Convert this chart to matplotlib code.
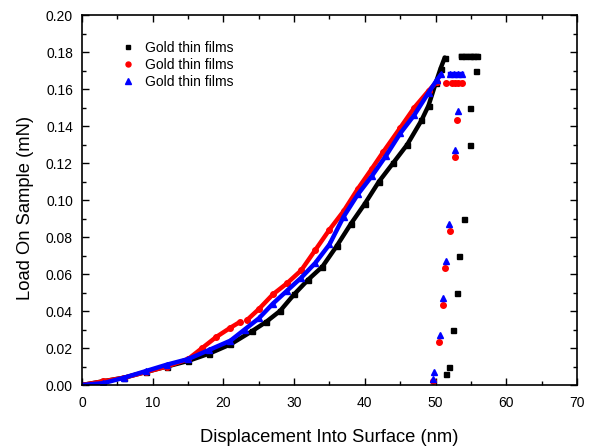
import matplotlib.pyplot as plt
from matplotlib.ticker import MultipleLocator

plt.rcParams['font.family'] = ['Liberation Sans', 'DejaVu Sans']

label = "Gold thin films"
nan = float('nan')

# loading segments (dense points)
black_x = [0, 3, 6, 9, 12, 15, 18, 21, 24, 26, 28, 30, 32, 34, 36, 38, 40, 42, 44, 46, 48, 49, 50, 50.7, 51.3]
black_y = [0.000, 0.002, 0.004, 0.007, 0.010, 0.013, 0.017, 0.022, 0.029, 0.034, 0.040, 0.049, 0.057, 0.064,
           0.075, 0.087, 0.098, 0.110, 0.120, 0.130, 0.143, 0.151, 0.163, 0.171, 0.177]
# red has a small break near 22-23 nm
red_x = [0, 3, 6, 9, 12, 15, 17, 19, 21, 22.3, nan, 23.3, 25, 27, 29, 31, 33, 35, 37, 39, 41, 42.6, 45, 47, 49, 50.2]
red_y = [0.000, 0.002, 0.004, 0.007, 0.010, 0.014, 0.020, 0.026, 0.031, 0.034, nan, 0.035, 0.041, 0.049, 0.055,
         0.062, 0.073, 0.084, 0.094, 0.106, 0.117, 0.126, 0.139, 0.150, 0.159, 0.164]
blue_x = [0, 3, 6, 9, 12, 15, 18, 21, 23, 25, 27, 29, 31, 33, 35, 37, 39, 41, 43, 45, 47, 49, 50.2, 50.8]
blue_y = [0.000, 0.001, 0.004, 0.0075, 0.011, 0.014, 0.019, 0.024, 0.030, 0.036, 0.044, 0.051, 0.058, 0.066,
          0.076, 0.091, 0.103, 0.113, 0.124, 0.136, 0.146, 0.158, 0.165, 0.168]

# holding at peak load
black_hold_x = [53.6, 54.2, 54.8, 55.3, 55.8]
black_hold_y = [0.178, 0.178, 0.178, 0.178, 0.178]
red_hold_x = [52.3, 52.8, 53.2, 53.7]
red_hold_y = [0.163, 0.163, 0.163, 0.163]
blue_hold_x = [52.0, 52.6, 53.2, 53.7]
blue_hold_y = [0.168, 0.168, 0.168, 0.168]

# unloading (sparse points)
black_unl_x = [55.7, 54.8, 54.8, 54.0, 53.3, 53.0, 52.4, 51.9, 51.5]
black_unl_y = [0.170, 0.150, 0.130, 0.090, 0.070, 0.050, 0.030, 0.010, 0.006]
red_unl_x = [51.5, 53.1, 52.8, 52.1, 51.4, 51.0, 50.5, 49.7]
red_unl_y = [0.163, 0.143, 0.123, 0.083, 0.063, 0.043, 0.023, 0.002]
blue_unl_x = [53.2, 52.8, 51.9, 51.5, 51.1, 50.6, 49.8, 49.7]
blue_unl_y = [0.148, 0.127, 0.087, 0.067, 0.047, 0.027, 0.007, 0.003]

fig = plt.figure(figsize=(5.98, 4.48), dpi=100)
ax = fig.add_axes([0.1371, 0.1406, 0.8278, 0.8259])

series = [
    ('black', 's', 3.6, black_x, black_y, black_hold_x, black_hold_y, black_unl_x, black_unl_y),
    ('red', 'o', 4.0, red_x, red_y, red_hold_x, red_hold_y, red_unl_x, red_unl_y),
    ('blue', '^', 4.2, blue_x, blue_y, blue_hold_x, blue_hold_y, blue_unl_x, blue_unl_y),
]
for c, m, ms, lx, ly, hx, hy, ux, uy in series:
    ax.plot(lx, ly, color=c, marker=m, ms=ms, lw=3.2, solid_capstyle='round')
    ax.plot(hx, hy, color=c, marker=m, ms=ms, lw=3.2)
    ax.plot(ux, uy, color=c, marker=m, ms=ms, ls='none', label=label)

ax.set_xlim(0, 70)
ax.set_ylim(0, 0.20)
ax.xaxis.set_major_locator(MultipleLocator(10))
ax.xaxis.set_minor_locator(MultipleLocator(5))
ax.yaxis.set_major_locator(MultipleLocator(0.02))
ax.yaxis.set_minor_locator(MultipleLocator(0.01))
ax.yaxis.set_major_formatter(plt.FormatStrFormatter('%.2f'))
ax.tick_params(which='both', direction='in', top=True, right=True, labelsize=10, width=1)
ax.tick_params(which='major', length=5)
ax.tick_params(which='minor', length=3)
ax.tick_params(axis='x', which='major', pad=8)
ax.tick_params(axis='y', which='major', pad=6.5)
for s in ax.spines.values():
    s.set_linewidth(1.2)

ax.set_xlabel("Displacement Into Surface (nm)", fontsize=13.2)
ax.set_ylabel("Load On Sample (mN)", fontsize=13.2)
ax.xaxis.set_label_coords(0.5, -0.119)
ax.yaxis.set_label_coords(-0.097, 0.478)

ax.legend(loc='upper left', bbox_to_anchor=(121 / 598, 1 - 41 / 448), bbox_transform=fig.transFigure,
          frameon=False, fontsize=10, handlelength=1.0, handletextpad=0.72, labelspacing=0.22,
          borderpad=0, borderaxespad=0, markerscale=0.9)

plt.savefig("out.png", dpi=100)
